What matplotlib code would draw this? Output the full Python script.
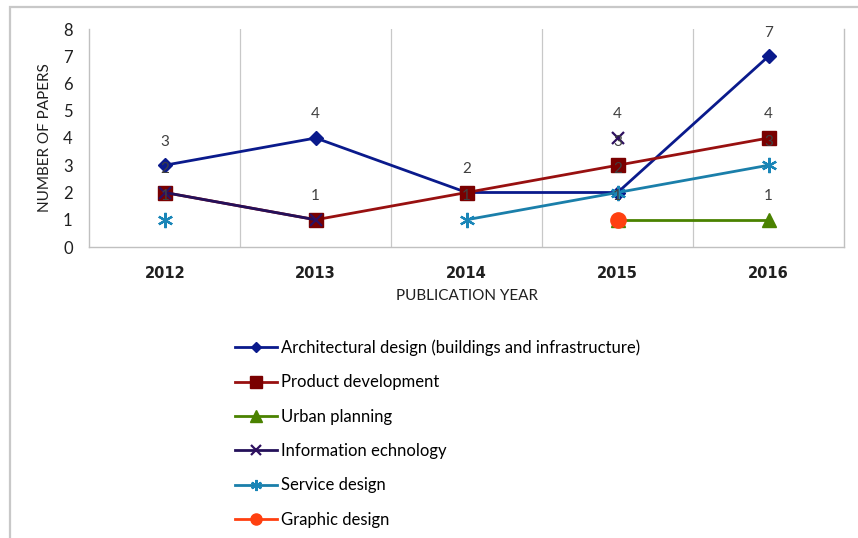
import matplotlib
matplotlib.use("Agg")
import matplotlib.pyplot as plt
import numpy as np
from matplotlib.lines import Line2D
from matplotlib.patches import Rectangle

years = ["2012", "2013", "2014", "2015", "2016"]
nan = np.nan
architectural = [3, 4, 2, 2, 7]
product_dev = [2, 1, 2, 3, 4]
urban = [nan, nan, nan, 1, 1]
info_tech = [2, 1, nan, 4, nan]
service = [1, nan, 1, 2, 3]
graphic = [nan, nan, nan, 1, nan]

series_names = [
    "Architectural design (buildings and infrastructure)",
    "Product development",
    "Urban planning",
    "Information echnology",
    "Service design",
    "Graphic design",
]

# data labels shown above points (year index, value)
label_year_idx = [0, 0, 0, 1, 1, 2, 2, 3, 3, 3, 3, 4, 4, 4, 4]
label_values = [3, 2, 1, 4, 1, 2, 1, 4, 3, 2, 1, 7, 4, 3, 1]

plt.rcParams['font.family'] = ['Lato', 'DejaVu Sans']

W, H = 858, 538
fig = plt.figure(figsize=(W / 100, H / 100), dpi=100)
fig.patch.set_facecolor('white')

# outer chart border
fig.add_artist(Rectangle((10 / W, -0.1), 1.2, (538 - 7) / H + 0.1, transform=fig.transFigure,
                         fill=False, edgecolor='#C8C8C8', linewidth=1.6))

left, right, top, bottom = 89.3, 844, 29, 247
ax = fig.add_axes([left / W, 1 - bottom / H, (right - left) / W, (bottom - top) / H])

x = np.arange(len(years))
styles = [
    (architectural, '#0A1A8C', 'D', 7, '#0A1A8C', 1.0, 5.5),
    (product_dev, '#981010', 's', 10, '#7A0000', 1.0, 8),
    (urban, '#4A8200', '^', 10, '#4A8200', 1.0, 8),
    (info_tech, '#24105A', 'x', 9, '#2E1060', 1.6, 7),
    (service, '#1A7FAA', (6, 2, 0), 11, '#1A86B8', 1.6, 8),
    (graphic, '#FF4010', 'o', 11, '#FF4010', 1.0, 8),
]
handles = []
for (vals, col, mk, ms, mcol, mew, lms), name in zip(styles, series_names):
    ax.plot(x, vals, color=col, lw=2.0, marker=mk, markersize=ms,
            markerfacecolor=mcol, markeredgecolor=mcol, markeredgewidth=mew,
            clip_on=False, zorder=3)
    handles.append(Line2D([], [], color=col, lw=2.0, marker=mk,
                          markersize=lms, markerfacecolor=mcol,
                          markeredgecolor=mcol, markeredgewidth=mew))

for xi, v in zip(label_year_idx, label_values):
    ax.annotate(str(v), (xi, v), xytext=(0, 17), textcoords='offset points',
                ha='center', va='center', fontsize=11, color='#404040', zorder=5)

ax.set_xlim(-0.5, len(years) - 0.5)
ax.set_ylim(0, 8)
ax.set_yticks(range(0, 9))
ax.set_xticks(x)
ax.set_xticklabels(years, fontsize=10.5, fontweight='bold', color='#202020')
ax.tick_params(axis='both', length=0)
ax.tick_params(axis='y', pad=12, labelsize=12, labelcolor='#202020')
ax.tick_params(axis='x', pad=14)
for lbl in ax.get_xticklabels():
    lbl.set_fontfamily(['DejaVu Sans'])

ax.set_xticks(np.arange(0.5, len(years) - 0.5, 1), minor=True)
ax.tick_params(axis='x', which='minor', length=0)
ax.grid(True, axis='x', which='minor', color='#C8C8C8', lw=0.9)
for s in ['left', 'bottom', 'right']:
    ax.spines[s].set_color('#C0C0C0')
    ax.spines[s].set_linewidth(1.0)
ax.spines['top'].set_visible(False)

ax.set_ylabel("NUMBER OF PAPERS", fontsize=11, color='#202020', labelpad=8)
fig.text(467 / W, 1 - 296 / H, "PUBLICATION YEAR", fontsize=11, color='#202020',
         ha='center', va='center')

fig.legend(handles, series_names, loc='upper left',
           bbox_to_anchor=(235 / W, 1 - 339.5 / H), frameon=False,
           fontsize=12, handlelength=2.5, handletextpad=0.25,
           labelspacing=1.1, borderpad=0, borderaxespad=0)

fig.savefig("out.png", dpi=100)
